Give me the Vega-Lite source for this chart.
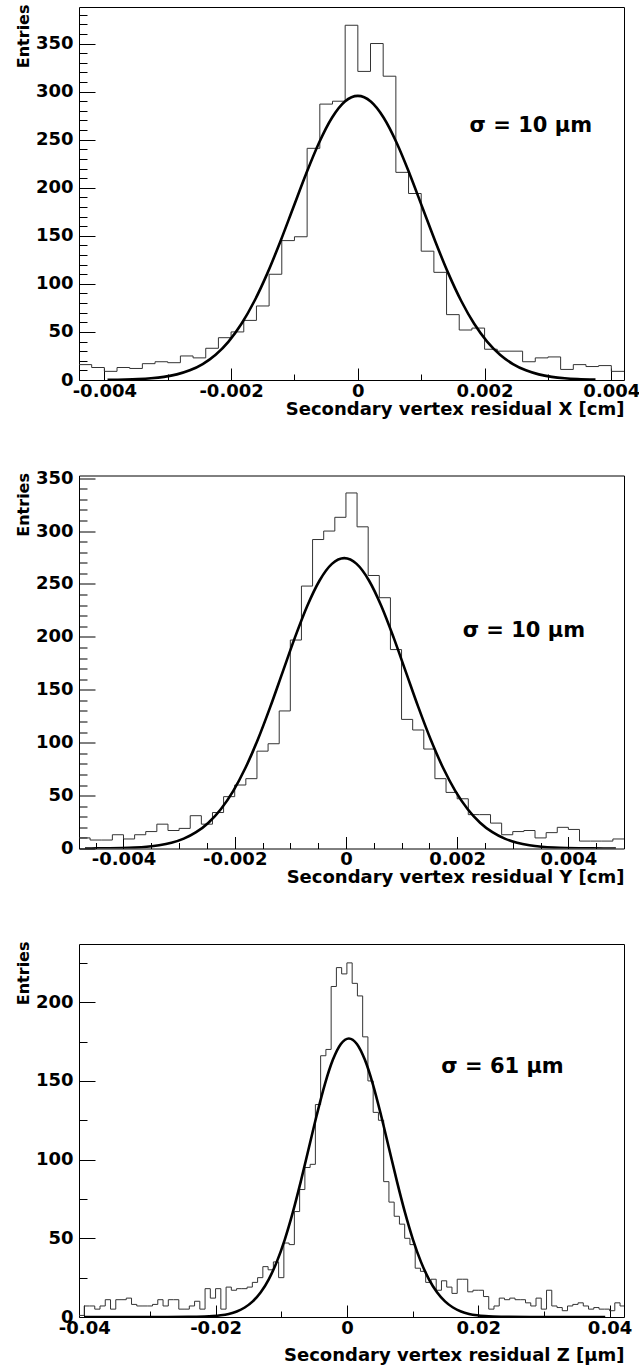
{
  "$schema": "https://vega.github.io/schema/vega-lite/v6.json",
  "background": "white",
  "padding": {"left": 14, "top": 3, "right": 10, "bottom": 4},
  "spacing": 95.5,
  "bounds": "flush",
  "config": {
    "view": {"stroke": "black", "strokeWidth": 1},
    "font": "DejaVu Sans",
    "axis": {
      "domain": false, "grid": false,
      "labelFont": "DejaVu Sans", "labelFontWeight": "bold", "labelFontSize": 18, "labelColor": "black",
      "tickColor": "black", "tickWidth": 1,
      "titleFont": "DejaVu Sans", "titleFontWeight": "bold", "titleColor": "black",
      "labelFlush": false, "labelOverlap": false
    }
  },
  "vconcat": [
    {
      "width": 545, "height": 373,
      "layer": [
        {
          "data": {"values": [
            {"x": -0.0044, "n": 16}, {"x": -0.0042, "n": 13}, {"x": -0.004, "n": 9}, {"x": -0.0038, "n": 13},
            {"x": -0.0036, "n": 12}, {"x": -0.0034, "n": 17}, {"x": -0.0032, "n": 19}, {"x": -0.003, "n": 18},
            {"x": -0.0028, "n": 25}, {"x": -0.0026, "n": 23}, {"x": -0.0024, "n": 33}, {"x": -0.0022, "n": 44},
            {"x": -0.002, "n": 50}, {"x": -0.0018, "n": 62}, {"x": -0.0016, "n": 77}, {"x": -0.0014, "n": 110},
            {"x": -0.0012, "n": 145}, {"x": -0.001, "n": 149}, {"x": -0.0008, "n": 241}, {"x": -0.0006, "n": 287},
            {"x": -0.0004, "n": 290}, {"x": -0.0002, "n": 369}, {"x": 0, "n": 321}, {"x": 0.0002, "n": 350},
            {"x": 0.0004, "n": 316}, {"x": 0.0006, "n": 216}, {"x": 0.0008, "n": 194}, {"x": 0.001, "n": 134},
            {"x": 0.0012, "n": 112}, {"x": 0.0014, "n": 68}, {"x": 0.0016, "n": 52}, {"x": 0.0018, "n": 54},
            {"x": 0.002, "n": 32}, {"x": 0.0022, "n": 30}, {"x": 0.0024, "n": 30}, {"x": 0.0026, "n": 19},
            {"x": 0.0028, "n": 23}, {"x": 0.003, "n": 24}, {"x": 0.0032, "n": 11}, {"x": 0.0034, "n": 16},
            {"x": 0.0036, "n": 14}, {"x": 0.0038, "n": 15}, {"x": 0.004, "n": 9}, {"x": 0.0042, "n": 9}
          ]},
          "mark": {"type": "line", "interpolate": "step-after", "color": "#333333", "strokeWidth": 1, "clip": true},
          "encoding": {
            "x": {"field": "x", "type": "quantitative",
              "scale": {"domain": [-0.0044, 0.0042], "nice": false, "zero": false},
              "axis": {"orient": "bottom", "values": [-0.004, -0.002, 0, 0.002, 0.004], "tickSize": -12, "labelPadding": 14,
                "labelExpr": "replace(format(datum.value, '~g'), '\u2212', '-')",
                "title": "Secondary vertex residual X [cm]", "titleFontSize": 18, "titleAnchor": "end", "titleAlign": "right",
                "titleBaseline": "alphabetic", "titleX": 545, "titleY": 34}},
            "y": {"field": "n", "type": "quantitative",
              "scale": {"domain": [0, 388], "nice": false, "zero": false},
              "axis": {"orient": "left", "values": [0, 50, 100, 150, 200, 250, 300, 350], "tickSize": -16, "labelPadding": 22,
                "title": "Entries", "titleFontSize": 16, "titleAngle": -90, "titleAnchor": "end", "titleAlign": "right",
                "titleBaseline": "alphabetic", "titleX": -51, "titleY": -3}}
          }
        },
        {
          "data": {"values": [
            {"x": -0.00395, "f": 0.17}, {"x": -0.003672, "f": 0.45}, {"x": -0.003468, "f": 0.91}, {"x": -0.003264, "f": 1.77},
            {"x": -0.00306, "f": 3.28}, {"x": -0.002856, "f": 5.86}, {"x": -0.002652, "f": 10.06}, {"x": -0.002448, "f": 16.59},
            {"x": -0.002244, "f": 26.28}, {"x": -0.00204, "f": 39.99}, {"x": -0.001836, "f": 58.48}, {"x": -0.001632, "f": 82.16},
            {"x": -0.001428, "f": 110.9}, {"x": -0.001224, "f": 143.84}, {"x": -0.00102, "f": 179.23}, {"x": -0.000816, "f": 214.58},
            {"x": -0.000612, "f": 246.82}, {"x": -0.000408, "f": 272.78}, {"x": -0.000204, "f": 289.65}, {"x": 0, "f": 295.5},
            {"x": 0.000204, "f": 289.65}, {"x": 0.000408, "f": 272.78}, {"x": 0.000612, "f": 246.82}, {"x": 0.000816, "f": 214.58},
            {"x": 0.00102, "f": 179.23}, {"x": 0.001224, "f": 143.84}, {"x": 0.001428, "f": 110.9}, {"x": 0.001632, "f": 82.16},
            {"x": 0.001836, "f": 58.48}, {"x": 0.00204, "f": 39.99}, {"x": 0.002244, "f": 26.28}, {"x": 0.002448, "f": 16.59},
            {"x": 0.002652, "f": 10.06}, {"x": 0.002856, "f": 5.86}, {"x": 0.00306, "f": 3.28}, {"x": 0.003264, "f": 1.77},
            {"x": 0.003468, "f": 0.91}, {"x": 0.00375, "f": 0.34}
          ]},
          "mark": {"type": "line", "interpolate": "monotone", "color": "black", "strokeWidth": 2.6, "clip": true},
          "encoding": {
            "x": {"field": "x", "type": "quantitative",
              "scale": {"domain": [-0.0044, 0.0042], "nice": false, "zero": false},
              "axis": {"orient": "bottom", "values": [-0.003, -0.001, 0.001, 0.003], "tickSize": -6, "labels": false, "title": null}},
            "y": {"field": "f", "type": "quantitative",
              "scale": {"domain": [0, 388], "nice": false, "zero": false},
              "axis": {"orient": "left", "values": [10, 20, 30, 40, 60, 70, 80, 90, 110, 120, 130, 140, 160, 170, 180, 190, 210, 220, 230, 240, 260, 270, 280, 290, 310, 320, 330, 340, 360, 370, 380], "tickSize": -8, "labels": false, "title": null}}
          }
        },
        {
          "data": {"values": [{"x": 0.00273, "y": 264, "t": "σ = 10 μm"}]},
          "mark": {"type": "text", "font": "DejaVu Sans", "fontWeight": "bold", "fontSize": 21, "align": "center", "baseline": "middle", "color": "black"},
          "encoding": {
            "x": {"field": "x", "type": "quantitative", "scale": {"domain": [-0.0044, 0.0042], "nice": false, "zero": false}, "axis": null},
            "y": {"field": "y", "type": "quantitative", "scale": {"domain": [0, 388], "nice": false, "zero": false}, "axis": null},
            "text": {"field": "t"}
          }
        }
      ],
      "resolve": {"axis": {"x": "independent", "y": "independent"}}
    },
    {
      "width": 545, "height": 373,
      "layer": [
        {
          "data": {"values": [
            {"x": -0.0048, "n": 10}, {"x": -0.0046, "n": 8}, {"x": -0.0044, "n": 8}, {"x": -0.0042, "n": 13},
            {"x": -0.004, "n": 9}, {"x": -0.0038, "n": 13}, {"x": -0.0036, "n": 16}, {"x": -0.0034, "n": 23},
            {"x": -0.0032, "n": 17}, {"x": -0.003, "n": 19}, {"x": -0.0028, "n": 31}, {"x": -0.0026, "n": 23},
            {"x": -0.0024, "n": 34}, {"x": -0.0022, "n": 49}, {"x": -0.002, "n": 60}, {"x": -0.0018, "n": 66},
            {"x": -0.0016, "n": 92}, {"x": -0.0014, "n": 99}, {"x": -0.0012, "n": 130}, {"x": -0.001, "n": 197},
            {"x": -0.0008, "n": 248}, {"x": -0.0006, "n": 292}, {"x": -0.0004, "n": 300}, {"x": -0.0002, "n": 313},
            {"x": 0, "n": 336}, {"x": 0.0002, "n": 304}, {"x": 0.0004, "n": 258}, {"x": 0.0006, "n": 237},
            {"x": 0.0008, "n": 188}, {"x": 0.001, "n": 122}, {"x": 0.0012, "n": 112}, {"x": 0.0014, "n": 94},
            {"x": 0.0016, "n": 66}, {"x": 0.0018, "n": 53}, {"x": 0.002, "n": 47}, {"x": 0.0022, "n": 32},
            {"x": 0.0024, "n": 32}, {"x": 0.0026, "n": 24}, {"x": 0.0028, "n": 13}, {"x": 0.003, "n": 16},
            {"x": 0.0032, "n": 17}, {"x": 0.0034, "n": 10}, {"x": 0.0036, "n": 15}, {"x": 0.0038, "n": 20},
            {"x": 0.004, "n": 18}, {"x": 0.0042, "n": 7}, {"x": 0.0044, "n": 7}, {"x": 0.0046, "n": 7},
            {"x": 0.0048, "n": 9}, {"x": 0.005, "n": 9}
          ]},
          "mark": {"type": "line", "interpolate": "step-after", "color": "#333333", "strokeWidth": 1, "clip": true},
          "encoding": {
            "x": {"field": "x", "type": "quantitative",
              "scale": {"domain": [-0.0048, 0.005], "nice": false, "zero": false},
              "axis": {"orient": "bottom", "values": [-0.004, -0.002, 0, 0.002, 0.004], "tickSize": -12, "labelPadding": 14,
                "labelExpr": "replace(format(datum.value, '~g'), '\u2212', '-')",
                "title": "Secondary vertex residual Y [cm]", "titleFontSize": 18, "titleAnchor": "end", "titleAlign": "right",
                "titleBaseline": "alphabetic", "titleX": 545, "titleY": 34}},
            "y": {"field": "n", "type": "quantitative",
              "scale": {"domain": [0, 352.5], "nice": false, "zero": false},
              "axis": {"orient": "left", "values": [0, 50, 100, 150, 200, 250, 300, 350], "tickSize": -16, "labelPadding": 22,
                "title": "Entries", "titleFontSize": 16, "titleAngle": -90, "titleAnchor": "end", "titleAlign": "right",
                "titleBaseline": "alphabetic", "titleX": -51, "titleY": -3}}
          }
        },
        {
          "data": {"values": [
            {"x": -0.004692, "f": 0.04}, {"x": -0.00447, "f": 0.09}, {"x": -0.004248, "f": 0.2}, {"x": -0.004026, "f": 0.42},
            {"x": -0.003804, "f": 0.85}, {"x": -0.003582, "f": 1.64}, {"x": -0.00336, "f": 3.05}, {"x": -0.003138, "f": 5.44},
            {"x": -0.002916, "f": 9.34}, {"x": -0.002694, "f": 15.4}, {"x": -0.002472, "f": 24.4}, {"x": -0.00225, "f": 37.14},
            {"x": -0.002028, "f": 54.3}, {"x": -0.001806, "f": 76.29}, {"x": -0.001584, "f": 102.98}, {"x": -0.001362, "f": 133.56},
            {"x": -0.00114, "f": 166.43}, {"x": -0.000918, "f": 199.26}, {"x": -0.000696, "f": 229.2}, {"x": -0.000474, "f": 253.3},
            {"x": -0.000252, "f": 268.97}, {"x": -0.00003, "f": 274.4}, {"x": 0.000192, "f": 268.97}, {"x": 0.000414, "f": 253.3},
            {"x": 0.000636, "f": 229.2}, {"x": 0.000858, "f": 199.26}, {"x": 0.00108, "f": 166.43}, {"x": 0.001302, "f": 133.56},
            {"x": 0.001524, "f": 102.98}, {"x": 0.001746, "f": 76.29}, {"x": 0.001968, "f": 54.3}, {"x": 0.00219, "f": 37.14},
            {"x": 0.002412, "f": 24.4}, {"x": 0.002634, "f": 15.4}, {"x": 0.002856, "f": 9.34}, {"x": 0.003078, "f": 5.44},
            {"x": 0.0033, "f": 3.05}, {"x": 0.003522, "f": 1.64}, {"x": 0.003744, "f": 0.85}, {"x": 0.003966, "f": 0.42},
            {"x": 0.004188, "f": 0.2}, {"x": 0.00441, "f": 0.09}, {"x": 0.004632, "f": 0.04}, {"x": 0.004854, "f": 0.02}
          ]},
          "mark": {"type": "line", "interpolate": "monotone", "color": "black", "strokeWidth": 2.6, "clip": true},
          "encoding": {
            "x": {"field": "x", "type": "quantitative",
              "scale": {"domain": [-0.0048, 0.005], "nice": false, "zero": false},
              "axis": {"orient": "bottom", "values": [-0.0045, -0.0035, -0.003, -0.0025, -0.0015, -0.001, -0.0005, 0.0005, 0.001, 0.0015, 0.0025, 0.003, 0.0035, 0.0045], "tickSize": -6, "labels": false, "title": null}},
            "y": {"field": "f", "type": "quantitative",
              "scale": {"domain": [0, 352.5], "nice": false, "zero": false},
              "axis": {"orient": "left", "values": [10, 20, 30, 40, 60, 70, 80, 90, 110, 120, 130, 140, 160, 170, 180, 190, 210, 220, 230, 240, 260, 270, 280, 290, 310, 320, 330, 340], "tickSize": -8, "labels": false, "title": null}}
          }
        },
        {
          "data": {"values": [{"x": 0.0032, "y": 206, "t": "σ = 10 μm"}]},
          "mark": {"type": "text", "font": "DejaVu Sans", "fontWeight": "bold", "fontSize": 21, "align": "center", "baseline": "middle", "color": "black"},
          "encoding": {
            "x": {"field": "x", "type": "quantitative", "scale": {"domain": [-0.0048, 0.005], "nice": false, "zero": false}, "axis": null},
            "y": {"field": "y", "type": "quantitative", "scale": {"domain": [0, 352.5], "nice": false, "zero": false}, "axis": null},
            "text": {"field": "t"}
          }
        }
      ],
      "resolve": {"axis": {"x": "independent", "y": "independent"}}
    },
    {
      "width": 545, "height": 373,
      "layer": [
        {
          "data": {"values": [
            {"x": -0.0408, "n": 1}, {"x": -0.04, "n": 7}, {"x": -0.0392, "n": 7}, {"x": -0.0384, "n": 5},
            {"x": -0.0376, "n": 7}, {"x": -0.0368, "n": 11}, {"x": -0.036, "n": 5}, {"x": -0.0352, "n": 11},
            {"x": -0.0344, "n": 11}, {"x": -0.0336, "n": 12}, {"x": -0.0328, "n": 8}, {"x": -0.032, "n": 7},
            {"x": -0.0312, "n": 7}, {"x": -0.0304, "n": 7}, {"x": -0.0296, "n": 8}, {"x": -0.0288, "n": 11},
            {"x": -0.028, "n": 7}, {"x": -0.0272, "n": 11}, {"x": -0.0264, "n": 11}, {"x": -0.0256, "n": 5},
            {"x": -0.0248, "n": 5}, {"x": -0.024, "n": 7}, {"x": -0.0232, "n": 10}, {"x": -0.0224, "n": 5},
            {"x": -0.0216, "n": 18}, {"x": -0.0208, "n": 12}, {"x": -0.02, "n": 18}, {"x": -0.0192, "n": 5},
            {"x": -0.0184, "n": 19}, {"x": -0.0176, "n": 17}, {"x": -0.0168, "n": 18}, {"x": -0.016, "n": 18},
            {"x": -0.0152, "n": 19}, {"x": -0.0144, "n": 22}, {"x": -0.0136, "n": 25}, {"x": -0.0128, "n": 32},
            {"x": -0.012, "n": 30}, {"x": -0.0112, "n": 35}, {"x": -0.0104, "n": 25}, {"x": -0.0096, "n": 47},
            {"x": -0.0088, "n": 46}, {"x": -0.008, "n": 67}, {"x": -0.0072, "n": 81}, {"x": -0.0064, "n": 95},
            {"x": -0.0056, "n": 97}, {"x": -0.0048, "n": 135}, {"x": -0.004, "n": 166}, {"x": -0.0032, "n": 170},
            {"x": -0.0024, "n": 210}, {"x": -0.0016, "n": 222}, {"x": -0.0008, "n": 218}, {"x": 0, "n": 225},
            {"x": 0.0008, "n": 212}, {"x": 0.0016, "n": 204}, {"x": 0.0024, "n": 178}, {"x": 0.0032, "n": 150},
            {"x": 0.004, "n": 130}, {"x": 0.0048, "n": 125}, {"x": 0.0056, "n": 86}, {"x": 0.0064, "n": 73},
            {"x": 0.0072, "n": 64}, {"x": 0.008, "n": 59}, {"x": 0.0088, "n": 50}, {"x": 0.0096, "n": 46},
            {"x": 0.0104, "n": 31}, {"x": 0.0112, "n": 29}, {"x": 0.012, "n": 22}, {"x": 0.0128, "n": 24},
            {"x": 0.0136, "n": 17}, {"x": 0.0144, "n": 23}, {"x": 0.0152, "n": 19}, {"x": 0.016, "n": 15},
            {"x": 0.0168, "n": 24}, {"x": 0.0176, "n": 24}, {"x": 0.0184, "n": 16}, {"x": 0.0192, "n": 17},
            {"x": 0.02, "n": 17}, {"x": 0.0208, "n": 13}, {"x": 0.0216, "n": 5}, {"x": 0.0224, "n": 7},
            {"x": 0.0232, "n": 12}, {"x": 0.024, "n": 11}, {"x": 0.0248, "n": 12}, {"x": 0.0256, "n": 11},
            {"x": 0.0264, "n": 11}, {"x": 0.0272, "n": 9}, {"x": 0.028, "n": 7}, {"x": 0.0288, "n": 12},
            {"x": 0.0296, "n": 5}, {"x": 0.0304, "n": 17}, {"x": 0.0312, "n": 7}, {"x": 0.032, "n": 6},
            {"x": 0.0328, "n": 4}, {"x": 0.0336, "n": 7}, {"x": 0.0344, "n": 8}, {"x": 0.0352, "n": 9},
            {"x": 0.036, "n": 7}, {"x": 0.0368, "n": 5}, {"x": 0.0376, "n": 6}, {"x": 0.0384, "n": 5},
            {"x": 0.0392, "n": 5}, {"x": 0.04, "n": 4}, {"x": 0.0408, "n": 9}, {"x": 0.0416, "n": 7},
            {"x": 0.0422, "n": 7}
          ]},
          "mark": {"type": "line", "interpolate": "step-after", "color": "#333333", "strokeWidth": 1, "clip": true},
          "encoding": {
            "x": {"field": "x", "type": "quantitative",
              "scale": {"domain": [-0.0408, 0.0422], "nice": false, "zero": false},
              "axis": {"orient": "bottom", "values": [-0.04, -0.02, 0, 0.02, 0.04], "tickSize": -12, "labelPadding": 14,
                "labelExpr": "replace(format(datum.value, '~g'), '\u2212', '-')",
                "title": "Secondary vertex residual Z [μm]", "titleFontSize": 18, "titleAnchor": "end", "titleAlign": "right",
                "titleBaseline": "alphabetic", "titleX": 545, "titleY": 43}},
            "y": {"field": "n", "type": "quantitative",
              "scale": {"domain": [0, 237], "nice": false, "zero": false},
              "axis": {"orient": "left", "values": [0, 50, 100, 150, 200], "tickSize": -16, "labelPadding": 22,
                "title": "Entries", "titleFontSize": 16, "titleAngle": -90, "titleAnchor": "end", "titleAlign": "right",
                "titleBaseline": "alphabetic", "titleX": -51, "titleY": -3}}
          }
        },
        {
          "data": {"values": [
            {"x": -0.03996, "f": 0}, {"x": -0.0363, "f": 0}, {"x": -0.0302, "f": 0}, {"x": -0.0241, "f": 0.06},
            {"x": -0.02288, "f": 0.13}, {"x": -0.02166, "f": 0.27}, {"x": -0.02044, "f": 0.55}, {"x": -0.01922, "f": 1.06},
            {"x": -0.018, "f": 1.97}, {"x": -0.01678, "f": 3.51}, {"x": -0.01556, "f": 6.03}, {"x": -0.01434, "f": 9.94},
            {"x": -0.01312, "f": 15.74}, {"x": -0.0119, "f": 23.96}, {"x": -0.01068, "f": 35.03}, {"x": -0.00946, "f": 49.21},
            {"x": -0.00824, "f": 66.43}, {"x": -0.00702, "f": 86.15}, {"x": -0.0058, "f": 107.36}, {"x": -0.00458, "f": 128.53},
            {"x": -0.00336, "f": 147.84}, {"x": -0.00214, "f": 163.39}, {"x": -0.00092, "f": 173.5}, {"x": 0.0003, "f": 177},
            {"x": 0.00152, "f": 173.5}, {"x": 0.00274, "f": 163.39}, {"x": 0.00396, "f": 147.84}, {"x": 0.00518, "f": 128.53},
            {"x": 0.0064, "f": 107.36}, {"x": 0.00762, "f": 86.15}, {"x": 0.00884, "f": 66.43}, {"x": 0.01006, "f": 49.21},
            {"x": 0.01128, "f": 35.03}, {"x": 0.0125, "f": 23.96}, {"x": 0.01372, "f": 15.74}, {"x": 0.01494, "f": 9.94},
            {"x": 0.01616, "f": 6.03}, {"x": 0.01738, "f": 3.51}, {"x": 0.0186, "f": 1.97}, {"x": 0.01982, "f": 1.06},
            {"x": 0.02104, "f": 0.55}, {"x": 0.02226, "f": 0.27}, {"x": 0.02348, "f": 0.13}, {"x": 0.0247, "f": 0.06},
            {"x": 0.0308, "f": 0}, {"x": 0.0369, "f": 0}, {"x": 0.03934, "f": 0}
          ]},
          "mark": {"type": "line", "interpolate": "monotone", "color": "black", "strokeWidth": 2.6, "clip": true},
          "encoding": {
            "x": {"field": "x", "type": "quantitative",
              "scale": {"domain": [-0.0408, 0.0422], "nice": false, "zero": false},
              "axis": {"orient": "bottom", "values": [-0.03, -0.01, 0.01, 0.03], "tickSize": -6, "labels": false, "title": null}},
            "y": {"field": "f", "type": "quantitative",
              "scale": {"domain": [0, 237], "nice": false, "zero": false},
              "axis": {"orient": "left", "values": [25, 75, 125, 175, 225], "tickSize": -8, "labels": false, "title": null}}
          }
        },
        {
          "data": {"values": [{"x": 0.0237, "y": 158.6, "t": "σ = 61 μm"}]},
          "mark": {"type": "text", "font": "DejaVu Sans", "fontWeight": "bold", "fontSize": 21, "align": "center", "baseline": "middle", "color": "black"},
          "encoding": {
            "x": {"field": "x", "type": "quantitative", "scale": {"domain": [-0.0408, 0.0422], "nice": false, "zero": false}, "axis": null},
            "y": {"field": "y", "type": "quantitative", "scale": {"domain": [0, 237], "nice": false, "zero": false}, "axis": null},
            "text": {"field": "t"}
          }
        }
      ],
      "resolve": {"axis": {"x": "independent", "y": "independent"}}
    }
  ]
}
